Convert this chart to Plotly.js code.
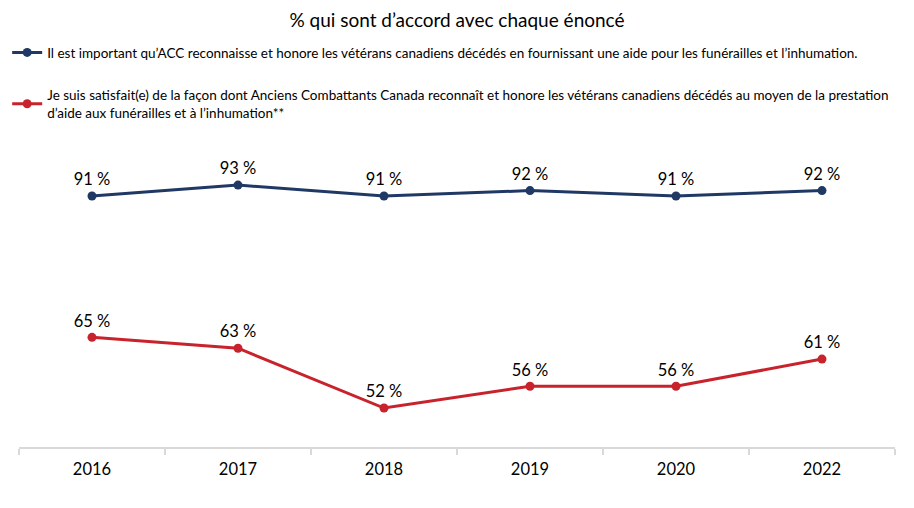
<!DOCTYPE html>
<html>
<head>
<meta charset="utf-8">
<script src="https://cdn.plot.ly/plotly-3.0.1.min.js"></script>
<style>html,body{margin:0;padding:0;background:#fff;}#chart{width:914px;height:508px;}</style>
</head>
<body>
<div id="chart"></div>
<script>
const years = ['2016', '2017', '2018', '2019', '2020', '2022'];
const importantValues = [91, 93, 91, 92, 91, 92];
const satisfaitValues = [65, 63, 52, 56, 56, 61];
const seriesNames = [
  'Il est important qu’ACC reconnaisse et honore les vétérans canadiens décédés en fournissant une aide pour les funérailles et l’inhumation.',
  'Je suis satisfait(e) de la façon dont Anciens Combattants Canada reconnaît et honore les vétérans canadiens décédés au moyen de la prestation<br>d’aide aux funérailles et à l’inhumation**'
];
const titleText = '% qui sont d’accord avec chaque énoncé';

const FONT = 'Lato, "Open Sans", sans-serif';
const blue = '#203864';
const red = '#C8232C';

function labels(v) { return v.map(x => x + ' %'); }

const traces = [
  {
    x: years, y: importantValues, name: seriesNames[0], legendgroup: 'a',
    type: 'scatter', mode: 'lines+markers+text',
    line: {color: blue, width: 3}, marker: {color: blue, size: 9},
    text: labels(importantValues), textposition: 'top center',
    textfont: {family: FONT, size: 16.5, color: '#000'}, cliponaxis: false
  },
  {
    x: years, y: satisfaitValues, name: seriesNames[1], legendgroup: 'b',
    type: 'scatter', mode: 'lines+markers+text',
    line: {color: red, width: 3}, marker: {color: red, size: 9},
    text: labels(satisfaitValues), textposition: 'top center',
    textfont: {family: FONT, size: 16.5, color: '#000'}, cliponaxis: false
  }
];

const layout = {
  width: 914, height: 508,
  margin: {l: 19, r: 19, t: 140, b: 61, autoexpand: false},
  paper_bgcolor: '#fff', plot_bgcolor: '#fff',
  font: {family: FONT, color: '#000'},
  title: {text: titleText, x: 0.5, xanchor: 'center', y: 0.96, yanchor: 'middle', font: {family: FONT, size: 19, color: '#000'}},
  showlegend: true,
  legend: {
    orientation: 'v', x: -0.0135, xanchor: 'left', y: 1.335, yanchor: 'top',
    font: {family: FONT, size: 13.5, color: '#000'}, tracegroupgap: 22, bgcolor: 'rgba(0,0,0,0)'
  },
  xaxis: {
    type: 'category', range: [-0.5, 5.5], showgrid: false, zeroline: false,
    showline: true, linecolor: '#d9d9d9', linewidth: 1.5,
    ticks: 'outside', tickson: 'boundaries', ticklen: 6, tickcolor: '#d9d9d9', tickwidth: 1.5,
    ticklabelstandoff: 7,
    tickfont: {family: FONT, size: 16.5, color: '#000'}
  },
  yaxis: {range: [44.83, 101.3], visible: false, showgrid: false, zeroline: false}
};

Plotly.newPlot('chart', traces, layout, {displayModeBar: false, staticPlot: true});
</script>
</body>
</html>
